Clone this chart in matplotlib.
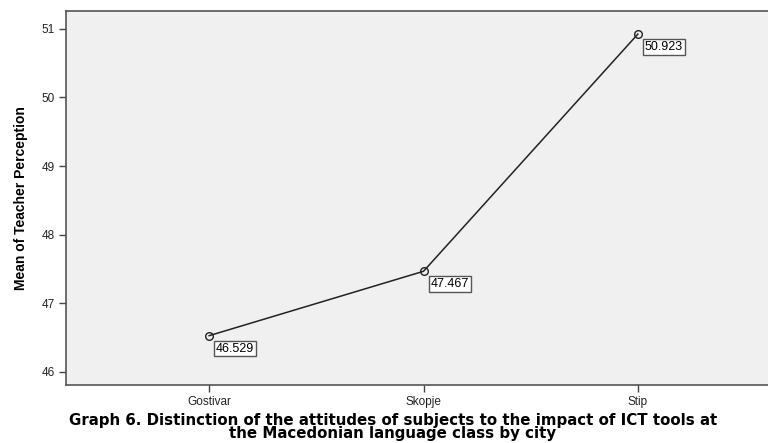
import matplotlib.pyplot as plt

cities = ["Gostivar", "Skopje", "Stip"]
means = [46.529, 47.467, 50.923]
yticks = [46, 47, 48, 49, 50, 51]

caption = ("Graph 6. Distinction of the attitudes of subjects to the impact of ICT tools at\n"
           "the Macedonian language class by city")

fig = plt.figure(figsize=(7.68, 4.43), dpi=100)
ax = fig.add_axes([66 / 768, 1 - 385 / 443, (781 - 66) / 768, (385 - 11) / 443])
ax.set_facecolor("#f0f0f0")

x = list(range(len(cities)))
ax.plot(x, means, color="#222222", lw=1.1, marker="o", ms=5.5,
        mfc="none", mec="#222222", mew=1.0)

for xi, v in zip(x, means):
    ax.annotate(f"{v:.3f}", (xi, v), xytext=(5, -5), textcoords="offset points",
                ha="left", va="top", fontsize=9, family="Liberation Sans",
                bbox=dict(boxstyle="square,pad=0.15", fc="white", ec="#555555", lw=1))

ax.set_xlim(-0.668, 2.668)
ax.set_ylim(45.81, 51.26)
ax.set_xticks(x)
ax.set_xticklabels(cities, fontsize=8.5, family="Liberation Sans", color="#222222")
ax.set_yticks(yticks)
ax.set_yticklabels([str(t) for t in yticks], fontsize=8.5, family="Liberation Sans", color="#222222")
ax.tick_params(length=5, width=1, color="#444444", direction="out", pad=3)
for s in ax.spines.values():
    s.set_color("#555555")
    s.set_linewidth(1.2)

ax.set_ylabel("Mean of Teacher Perception", fontsize=10, fontweight="bold",
              family=["Liberation Sans Narrow", "Liberation Sans"], labelpad=10)

fig.text(393 / 768, 1 - 427 / 443, caption, ha="center", va="center",
         fontsize=10.8, fontweight="bold", family="DejaVu Sans", linespacing=0.85)

fig.savefig("out.png", dpi=100)
